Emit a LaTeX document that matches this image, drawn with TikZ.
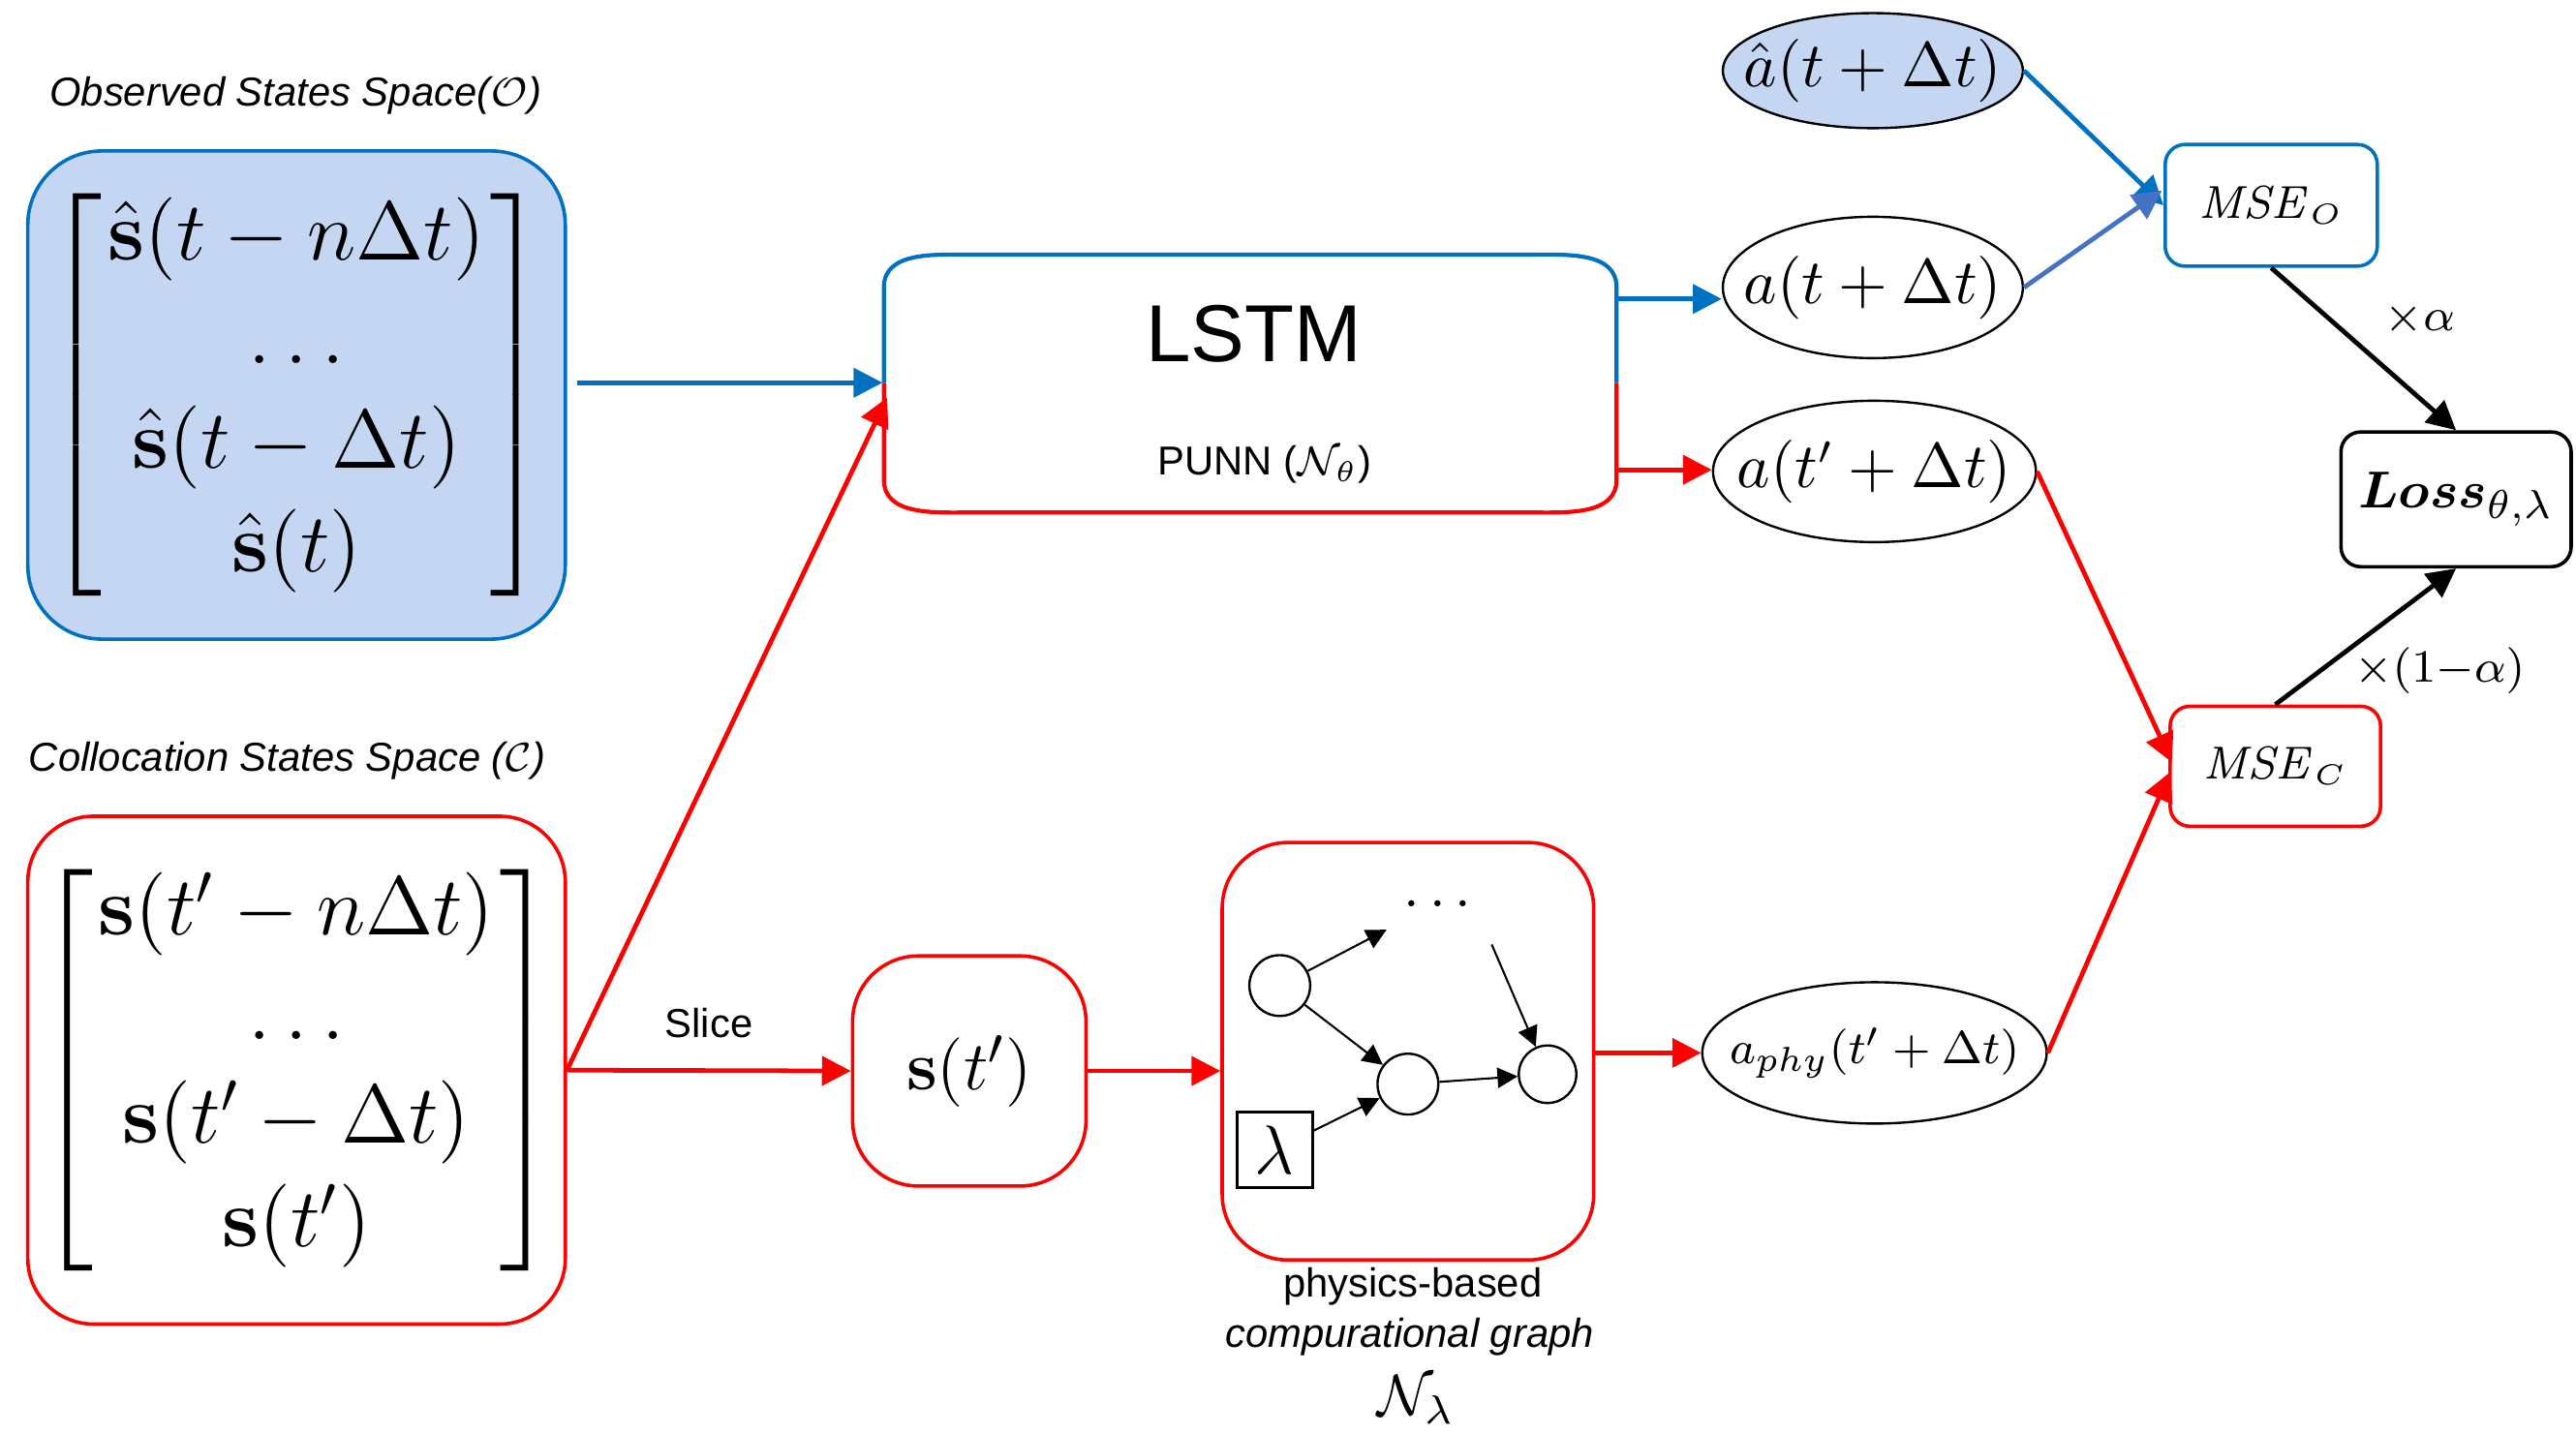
\documentclass[tikz,border=0pt]{standalone}
\usepackage{amsmath,amssymb,bm}
\usepackage[no-math]{fontspec}
\setmainfont{Liberation Sans}
\usetikzlibrary{arrows.meta,shapes.geometric,positioning}
\definecolor{obsblue}{HTML}{0070C0}
\definecolor{obsfill}{HTML}{C5D6F2}
\definecolor{colred}{HTML}{FF0000}
\definecolor{steel}{HTML}{4472C4}
\tikzset{
  obsbox/.style={draw=obsblue,line width=0.6pt,rounded corners=0.45cm,fill=obsfill},
  colbox/.style={draw=colred,line width=0.6pt,rounded corners=0.4cm},
  outell/.style={ellipse,draw,line width=0.4pt,inner xsep=-4pt,inner ysep=0pt},
  msebox/.style={draw,line width=0.6pt,rounded corners=0.12cm},
  bluearr/.style={-{Triangle[length=5pt,width=5pt]},draw=obsblue,line width=0.8pt},
  redarr/.style={-{Triangle[length=5pt,width=5pt]},draw=colred,line width=0.8pt},
  blackarr/.style={-{Triangle[length=5pt,width=5pt]},line width=0.8pt},
  gnode/.style={circle,draw,line width=0.4pt,minimum size=0.37cm,inner sep=0pt},
  garr/.style={-{Triangle[length=3.5pt,width=3.5pt]},line width=0.35pt},
}
\begin{document}
\begin{tikzpicture}[x=0.01cm,y=-0.01cm]
  \useasboundingbox (0,0) rectangle (1568,872.5);

  % input spaces
  \node (obslabel) at (180,58) {\fontsize{7}{9}\selectfont\itshape Observed States Space($\mathcal{O}$)};
  \node[obsbox,minimum width=3.27cm,minimum height=2.97cm] (obs) at (180.5,240.5) {};
  \node at (obs.center) {\fontsize{14.5}{18}\selectfont\arraycolsep=1pt$\left[\begin{array}{c}
      \hat{\mathbf{s}}(t-n\Delta t)\\ \dots\\ \hat{\mathbf{s}}(t-\Delta t)\\ \hat{\mathbf{s}}(t)\end{array}\right]$};

  \node (collabel) at (175,463) {\fontsize{7}{9}\selectfont\itshape Collocation States Space ($\mathcal{C}$)};
  \node[colbox,minimum width=3.27cm,minimum height=3.09cm] (col) at (180.5,651.5) {};
  \node at (col.center) {\fontsize{14.5}{18}\selectfont\arraycolsep=1pt$\left[\begin{array}{c}
      \mathbf{s}(t'-n\Delta t)\\ \dots\\ \mathbf{s}(t'-\Delta t)\\ \mathbf{s}(t')\end{array}\right]$};

  % LSTM
  \node[minimum width=4.46cm,minimum height=1.6cm,inner sep=0pt] (lstm) at (761,233) {};
  \draw[obsblue,line width=0.7pt] (538,233) -- (538,175) to[out=90,in=180] (590,155) -- (932,155) to[out=0,in=90] (984,175) -- (984,233);
  \draw[colred,line width=0.7pt] (538,233) -- (538,292) to[out=-90,in=180] (590,312) -- (932,312) to[out=0,in=-90] (984,292) -- (984,233);
  \node at (763,203) {\fontsize{14}{16}\selectfont LSTM};
  \node at (770,283) {\fontsize{7}{9}\selectfont PUNN ($\mathcal{N}_\theta$)};

  % collocation branch
  \node[colbox,minimum width=1.42cm,minimum height=1.4cm] (slice) at (590,652) {\fontsize{12.5}{15}\selectfont$\mathbf{s}(t')$};
  \node[colbox,minimum width=2.26cm,minimum height=2.54cm] (graph) at (857,640) {};
  \node (physlabel) at (860,783) {\fontsize{7}{9}\selectfont physics-based};
  \node (complabel) at (858,814) {\fontsize{7}{9}\selectfont\itshape compurational graph};
  \node (nlambda) at (862,852) {\fontsize{10}{12}\selectfont$\mathcal{N}_\lambda$};

  % graph inside
  \node[gnode] (g1) at (779,600) {};
  \node (gdots) at (878,550) {$\dots$};
  \node[gnode] (g2) at (857,660) {};
  \node[gnode,minimum size=0.35cm] (g3) at (942,654) {};
  \node[draw,line width=0.4pt,minimum size=0.46cm,inner sep=0pt] (lam) at (776,700) {\fontsize{13}{15}\selectfont$\lambda$};
  \draw[garr] (g1) -- (844,566);
  \draw[garr] (g1) -- (g2);
  \draw[garr] (lam) -- (g2);
  \draw[garr] (g2) -- (g3);
  \draw[garr] (908,575) -- (g3);

  % outputs
  \node[outell,fill=obsfill,minimum width=1.6cm,minimum height=0.7cm] (ahat) at (1140,43) {\fontsize{11}{13}\selectfont$\hat{a}(t+\Delta t)$};
  \node[outell,minimum width=1.7cm,minimum height=0.86cm] (aobs) at (1140,175) {\fontsize{11}{13}\selectfont$a(t+\Delta t)$};
  \node[outell,minimum width=1.68cm,minimum height=0.86cm] (acol) at (1141,287) {\fontsize{10.5}{13}\selectfont$a(t'+\Delta t)$};
  \node[outell,minimum width=1.68cm,minimum height=0.86cm] (aphy) at (1141,641) {\fontsize{8.5}{10}\selectfont$a_{phy}(t'+\Delta t)$};

  \node[msebox,draw=obsblue,minimum width=1.29cm,minimum height=0.74cm] (mseo) at (1382.5,125) {\fontsize{8.5}{10}\selectfont$\mathit{MSE}_{\scriptscriptstyle O}$};
  \node[msebox,draw=colred,minimum width=1.28cm,minimum height=0.73cm] (msec) at (1385,466.5) {\fontsize{8.5}{10}\selectfont$\mathit{MSE}_{\scriptscriptstyle C}$};
  \node[msebox,draw=black,minimum width=1.4cm,minimum height=0.82cm,inner sep=1pt] (loss) at (1495,304) {\fontsize{9.5}{12}\selectfont$\bm{Loss}_{\theta,\lambda}$};
  \node (alpha1) at (1473,194) {\fontsize{8}{10}\selectfont$\times\alpha$};
  \node (alpha2) at (1485,408) {\fontsize{8}{10}\selectfont$\times(1{-}\alpha)$};

  % connectors
  \draw[bluearr] (obs.east |- lstm.west) ++(6,0) -- (lstm.west);
  \draw[redarr] (col.east) -- (540,242);
  \draw[redarr] (col.east) -- node[above,black,pos=0.5,yshift=2pt] {\fontsize{7}{9}\selectfont Slice} (slice.west);
  \draw[redarr] (slice.east) -- (graph.west |- slice.east);
  \draw[redarr] (graph.east |- aphy.west) -- (aphy.west);
  \draw[bluearr] (984,182) -- (aobs.west |- 0,182);
  \draw[redarr] (984,286) -- (acol.west |- 0,286);
  \draw[bluearr] (ahat.east) -- (mseo.west);
  \draw[bluearr,draw=steel] (aobs.east) -- (1316,116);
  \draw[redarr] (acol.east) -- (1322,464);
  \draw[redarr] (aphy.east) -- (1321,470);
  \draw[blackarr] (mseo.south) -- (loss.north);
  \draw[blackarr] (msec.north) -- (loss.south);
\end{tikzpicture}
\end{document}
